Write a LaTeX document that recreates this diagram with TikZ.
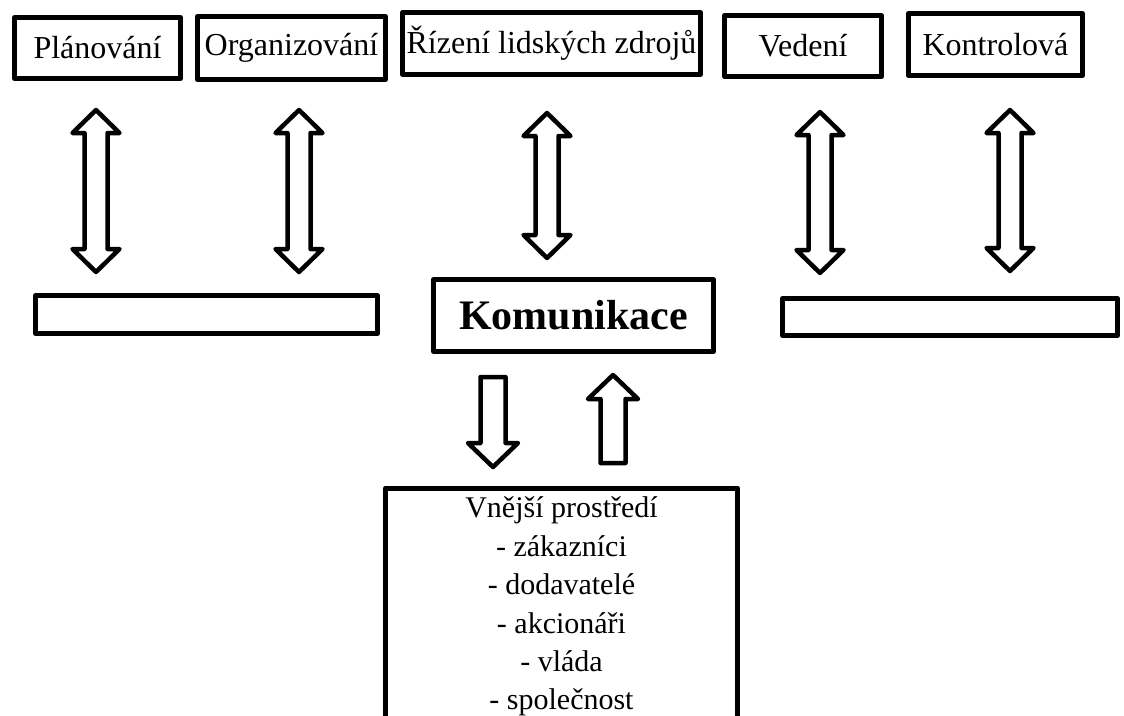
\documentclass[tikz,border=0pt]{standalone}
\usepackage{fontspec}
\setmainfont{Liberation Serif}
\begin{document}
\begin{tikzpicture}[x=1pt,y=-1pt,
  box/.style={draw, line width=5pt, line join=round, inner sep=0pt,
    font=\fontsize{32}{38}\selectfont},
  blockarrow/.style={draw, line width=4.5pt, line join=round, fill=white},
  pics/dblarrow/.style={code={
    \draw[blockarrow] (0,0) -- (23.5,23) -- (11.5,23) -- (11.5,#1-23)
      -- (23.5,#1-23) -- (0,#1) -- (-23.5,#1-23) -- (-11.5,#1-23)
      -- (-11.5,23) -- (-23.5,23) -- cycle;}},
  pics/downarrow/.style={code={
    \draw[blockarrow] (-12.5,0) -- (12.5,0) -- (12.5,#1-24) -- (25,#1-24)
      -- (0,#1) -- (-25,#1-24) -- (-12.5,#1-24) -- cycle;}},
  pics/uparrow/.style={code={
    \draw[blockarrow] (0,0) -- (25,24) -- (12.5,24) -- (12.5,#1)
      -- (-12.5,#1) -- (-12.5,24) -- (-25,24) -- cycle;}}
]
\useasboundingbox (0,0) rectangle (1124,715);
\clip (0,0) rectangle (1124,715);

% management functions along the top
\node[box, minimum width=166, minimum height=61] (plan) at (97.5,48) {Plánování};
\node[box, minimum width=188, minimum height=63] (org)  at (291.5,48) {Organizování};
\node[box, minimum width=298, minimum height=62] (hr)   at (551.5,43.5) {Řízení lidských zdrojů};
\node[box, minimum width=157, minimum height=61] (lead) at (803,46) {Vedení};
\node[box, minimum width=174, minimum height=62] (ctrl) at (995.5,44.5) {Kontrolová};

% middle row
\node[box, minimum width=342, minimum height=38] (left)  at (206.5,314.5) {};
\node[box, minimum width=280, minimum height=72,
      font=\fontsize{42}{48}\selectfont\bfseries] (comm) at (573.5,315.5) {Komunikace};
\node[box, minimum width=335, minimum height=37] (right) at (950,317) {};

% external environment
\node[box, anchor=north, minimum width=352, inner ysep=3pt, align=center,
      font=\fontsize{30}{38.4}\selectfont] (ext) at (561.5,485.5)
  {\strut Vnější prostředí\\- zákazníci\\- dodavatelé\\- akcionáři\\- vláda\\- společnost\\ \\ };

% two-way links between the functions and the middle row
\pic at (96,110)  {dblarrow=162};
\pic at (299,110) {dblarrow=162};
\pic at (547,113) {dblarrow=145};
\pic at (820,112) {dblarrow=161};
\pic at (1010,110) {dblarrow=161};

% flows between communication and the environment
\pic at (493,377) {downarrow=90};
\pic at (613,375) {uparrow=88};
\end{tikzpicture}
\end{document}
